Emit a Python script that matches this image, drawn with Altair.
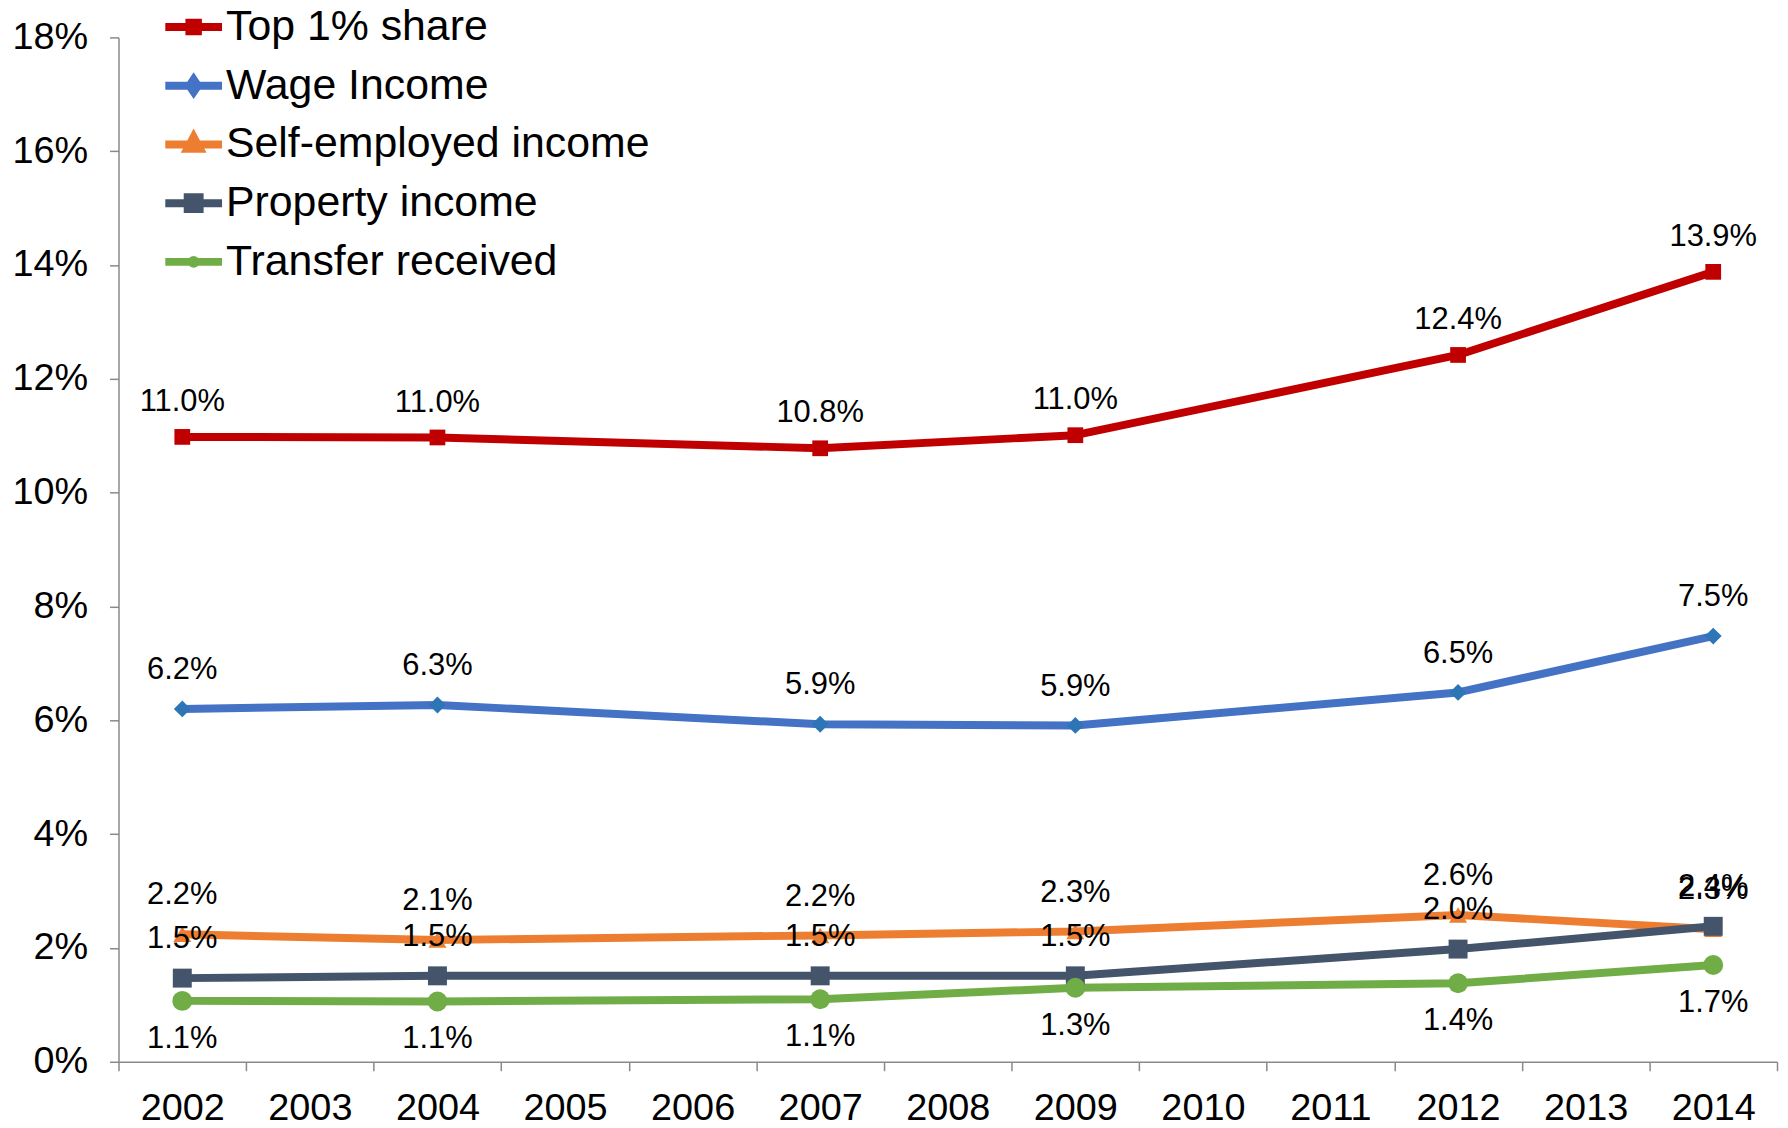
import altair as alt
import pandas as pd

# ---- data ----
all_years = ["2002", "2003", "2004", "2005", "2006", "2007", "2008",
             "2009", "2010", "2011", "2012", "2013", "2014"]
data_years = ["2002", "2004", "2007", "2009", "2012", "2014"]
series_names = ["Top 1% share", "Wage Income", "Self-employed income",
                "Property income", "Transfer received"]
top1 = [10.98, 10.97, 10.78, 11.01, 12.42, 13.88]
wage = [6.20, 6.27, 5.93, 5.91, 6.49, 7.48]
self_emp = [2.24, 2.14, 2.22, 2.29, 2.58, 2.33]
property_inc = [1.47, 1.51, 1.51, 1.51, 1.98, 2.38]
transfer = [1.07, 1.06, 1.10, 1.30, 1.38, 1.70]
y_ticks = [0, 2, 4, 6, 8, 10, 12, 14, 16, 18]

series_values = [top1, wage, self_emp, property_inc, transfer]
rows = []
for name, vals in zip(series_names, series_values):
    for yr, v in zip(data_years, vals):
        rows.append({"year": yr, "series": name, "value": v})
df = pd.DataFrame(rows)

# ---- styles ----
FONT = "Liberation Sans"
line_colors = ["#C00000", "#4472C4", "#ED7D31", "#44546A", "#70AD47"]
marker_colors = ["#C00000", "#2E75B6", "#ED7D31", "#44546A", "#70AD47"]
marker_shapes = ["square", "diamond", "triangle-up", "square", "circle"]
marker_sizes = [250, 400, 430, 540, 200]
LINE = "M-1,0L1,0"
legend_paths = [
    LINE + "M-0.15,-0.15L0.15,-0.15L0.15,0.15L-0.15,0.15Z",
    LINE + "M0,-0.22L0.15,0L0,0.22L-0.15,0Z",
    LINE + "M0,-0.26L0.22,0.15L-0.22,0.15Z",
    LINE + "M-0.21,-0.21L0.21,-0.21L0.21,0.21L-0.21,0.21Z",
    LINE + "M-0.07,0A0.07,0.07 0 1,0 0.07,0A0.07,0.07 0 1,0 -0.07,0Z",
]

x_enc = alt.X(
    "year:O",
    scale=alt.Scale(type="band", domain=all_years, paddingInner=0, paddingOuter=0),
    bandPosition=0.5,
    axis=alt.Axis(title=None, labelAngle=0, tickBand="extent", labelPadding=19,
                  labelFontSize=38),
)
y_enc = alt.Y(
    "value:Q",
    scale=alt.Scale(domain=[0, 18], nice=False, zero=True),
    axis=alt.Axis(title=None, values=y_ticks, labelExpr="datum.value + '%'",
                  grid=False, labelPadding=22, labelFontSize=38),
)

base = alt.Chart(df)

lines = base.mark_line(strokeWidth=8, strokeJoin="round").encode(
    x=x_enc, y=y_enc,
    color=alt.Color("series:N", scale=alt.Scale(domain=series_names, range=line_colors), legend=None),
    order=alt.Order("year:O"),
)

points = base.mark_point(filled=True, opacity=1).encode(
    x=x_enc, y=y_enc,
    color=alt.Color("series:N", scale=alt.Scale(domain=series_names, range=marker_colors), legend=None),
    shape=alt.Shape("series:N", scale=alt.Scale(domain=series_names, range=marker_shapes), legend=None),
    size=alt.Size("series:N", scale=alt.Scale(domain=series_names, range=marker_sizes), legend=None),
)

label_base = base.transform_calculate(lbl="format(datum.value, '.1f') + '%'")


def text_layer(names, dy):
    return label_base.transform_filter(
        alt.FieldOneOfPredicate(field="series", oneOf=names)
    ).mark_text(font=FONT, fontSize=31, color="#000000", dy=dy,
                baseline="middle", align="center").encode(
        x=x_enc, y=y_enc, text="lbl:N")


labels_top = text_layer([series_names[0]], -35)
labels_mid = text_layer(series_names[1:4], -39)
labels_low = text_layer([series_names[4]], 38)

leg = alt.Legend(
    title=None, orient="none", legendX=43, legendY=-43,
    symbolSize=3249, symbolStrokeWidth=8, symbolOpacity=1,
    labelFont=FONT, labelFontSize=43, labelColor="#000000", labelLimit=1000,
    labelOffset=0, rowPadding=4, padding=0,
)

legend_layer = base.transform_filter("false").mark_point(filled=True, opacity=1).encode(
    fill=alt.Fill("series:N", scale=alt.Scale(domain=series_names, range=line_colors), legend=leg),
    stroke=alt.Stroke("series:N", scale=alt.Scale(domain=series_names, range=line_colors), legend=leg),
    shape=alt.Shape("series:N", scale=alt.Scale(domain=series_names, range=legend_paths), legend=leg),
)

chart = alt.layer(
    lines, points, labels_top, labels_mid, labels_low, legend_layer
).resolve_scale(
    color="independent", shape="independent", size="independent",
    fill="independent", stroke="independent",
).properties(
    width=1666, height=1029,
    autosize=alt.AutoSizeParams(type="none"),
    padding={"left": 111, "top": 27, "right": 3, "bottom": 64},
    background="white",
).configure_view(stroke=None).configure_axis(
    labelFont=FONT, labelColor="#000000",
    domainColor="#898989", domainWidth=1.5,
    tickColor="#898989", tickWidth=1.5, tickSize=9,
)

chart.save("out.html", embed_options={"renderer": "svg", "actions": False})
